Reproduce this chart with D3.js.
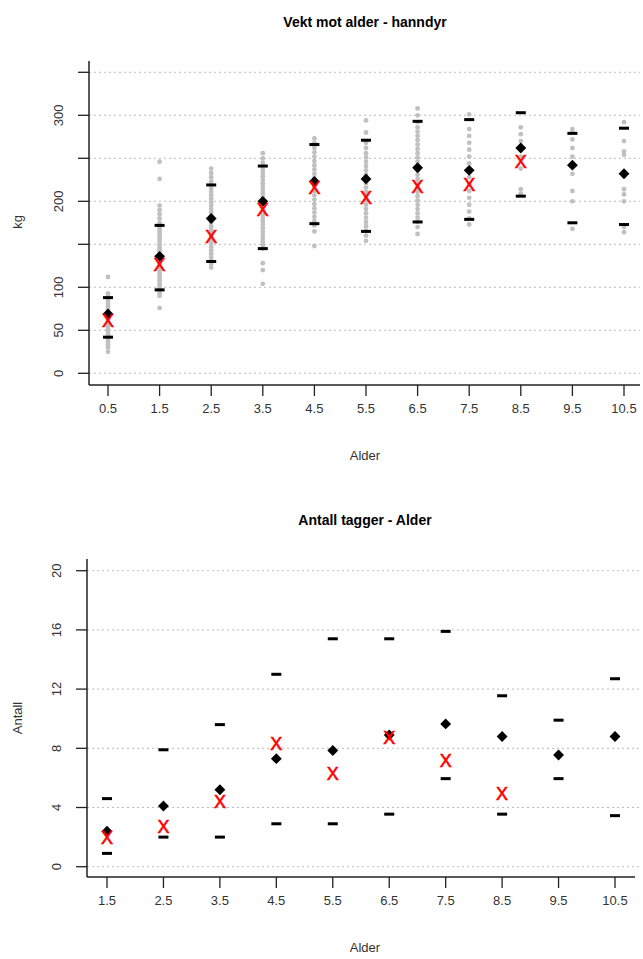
<!DOCTYPE html>
<html><head><meta charset="utf-8">
<script src="https://cdnjs.cloudflare.com/ajax/libs/d3/7.8.5/d3.min.js"></script>
<style>body{margin:0;background:#fff;font-family:"Liberation Sans",Arial,sans-serif}</style>
</head><body><svg id="c" width="643" height="959"></svg>
<script>
// top chart: weight vs age (males)
var ages1 = [0.5,1.5,2.5,3.5,4.5,5.5,6.5,7.5,8.5,9.5,10.5];
var mean1 = [69,136,180,200,223,226,239,236,262,242,232];
var median1 = [61,126,159,190,216,205,217,220,246,null,null];
var upper1 = [88,172,219,241,266,271,293,295,303,279,285];
var lower1 = [42,97,130,145,174,165,176,179,206,175,173];
var dots1 = [
  [25,30,33,36,39,42,45,48,51,54,57,60,63,66,69,72,75,78,81,84,87,90,93,112],
  [76,90,93,96,99,102,105,108,111,114,117,120,123,126,129,132,135,138,141,144,147,150,153,156,159,162,165,168,171,175,180,185,190,195,226,246],
  [123,127,131,135,139,143,147,151,155,159,163,167,171,175,179,183,187,191,195,199,203,207,211,215,219,223,228,233,238],
  [104,120,128,145,149,153,157,161,165,169,173,177,181,185,189,193,197,201,205,209,213,217,221,225,229,233,237,241,245,250,256],
  [148,165,172,177,182,187,192,197,202,207,212,217,222,227,232,237,242,247,252,257,262,268,273],
  [154,160,166,171,176,181,186,191,196,201,206,211,216,221,226,231,236,241,246,251,256,262,268,280,294],
  [162,170,176,181,186,191,196,201,206,211,216,221,226,231,236,241,246,251,256,261,266,271,276,281,286,292,300,308],
  [173,180,188,196,204,212,220,228,236,244,252,260,268,276,284,301],
  [209,214,238,252,262,270,278,286],
  [168,200,212,232,244,252,262,272,280,284],
  [164,170,200,208,214,232,254,258,270,292]
];
var yTicks1 = [0,50,100,150,200,250,300,350];
var yLabels1 = [0,50,100,200,300];

// bottom chart: number of antler tines vs age
var ages2 = [1.5,2.5,3.5,4.5,5.5,6.5,7.5,8.5,9.5,10.5];
var mean2 = [2.4,4.1,5.2,7.3,7.85,8.9,9.65,8.8,7.55,8.8];
var median2 = [2.0,2.7,4.4,8.35,6.3,8.75,7.2,4.95,null,null];
var upper2 = [4.6,7.9,9.6,13.0,15.4,15.4,15.9,11.55,9.9,12.7];
var lower2 = [0.9,2.0,2.0,2.9,2.9,3.55,5.95,3.55,5.95,3.45];
var yTicks2 = [0,4,8,12,16,20];

var svg = d3.select("#c");
var FONT = "13px 'Liberation Sans', Arial, sans-serif";

function panel(o) {
  var g = svg.append("g");
  var x = d3.scaleLinear().domain(o.xd).range(o.xr);
  var y = d3.scaleLinear().domain(o.yd).range(o.yr);
  // grid
  g.selectAll("line.grid").data(o.yTicks).enter().append("line")
    .attr("x1", o.left).attr("x2", 640).attr("y1", y).attr("y2", y)
    .attr("stroke", "#bbb").attr("stroke-dasharray", "2,3");
  // axes
  g.append("line").attr("x1", o.left).attr("x2", o.left).attr("y1", o.axTop).attr("y2", o.axBottom).attr("stroke", "#222").attr("stroke-width", 1.5);
  g.append("line").attr("x1", o.left).attr("x2", o.axRight).attr("y1", o.axBottom).attr("y2", o.axBottom).attr("stroke", "#222").attr("stroke-width", 1.5);
  g.selectAll("line.yt").data(o.yTicks).enter().append("line")
    .attr("x1", o.left - 11).attr("x2", o.left).attr("y1", y).attr("y2", y).attr("stroke", "#222").attr("stroke-width", 1.3);
  g.selectAll("text.yl").data(o.yLabels).enter().append("text")
    .attr("transform", function(d){ return "translate(" + (o.left - 26) + "," + y(d) + ") rotate(-90)"; })
    .attr("text-anchor", "middle").style("font", FONT).attr("fill", "#333").text(function(d){ return d; });
  g.selectAll("line.xt").data(o.ages).enter().append("line")
    .attr("x1", x).attr("x2", x).attr("y1", o.axBottom).attr("y2", o.axBottom + 11).attr("stroke", "#222").attr("stroke-width", 1.3);
  g.selectAll("text.xl").data(o.ages).enter().append("text")
    .attr("x", x).attr("y", o.axBottom + 28).attr("text-anchor", "middle").style("font", FONT).attr("fill", "#333")
    .text(function(d){ return d; });
  // titles
  g.append("text").attr("x", 365).attr("y", o.titleY).attr("text-anchor", "middle")
    .style("font", "bold 14px 'Liberation Sans', Arial, sans-serif").text(o.title);
  g.append("text").attr("x", 365).attr("y", o.axBottom + 75).attr("text-anchor", "middle").style("font", FONT).attr("fill", "#333").text("Alder");
  g.append("text").attr("transform", "translate(22," + o.ylabY + ") rotate(-90)").attr("text-anchor", "middle")
    .style("font", FONT).attr("fill", "#333").text(o.ylab);

  // grey dots
  if (o.dots) {
    o.dots.forEach(function(arr, i) {
      g.selectAll(null).data(arr).enter().append("circle")
        .attr("cx", x(o.ages[i])).attr("cy", y).attr("r", 2.4).attr("fill", "#c0c0c0");
    });
  }
  // range bars
  [o.upper, o.lower].forEach(function(arr) {
    g.selectAll(null).data(arr).enter().append("rect")
      .attr("x", function(d, i){ return x(o.ages[i]) - 5; }).attr("y", function(d){ return y(d) - 1.5; })
      .attr("width", 10).attr("height", 3).attr("fill", "#000");
  });
  // means
  g.selectAll(null).data(o.mean).enter().append("path")
    .attr("d", d3.symbol(d3.symbolDiamond2, 75))
    .attr("transform", function(d, i){ return "translate(" + x(o.ages[i]) + "," + y(d) + ")"; })
    .attr("fill", "#000");
  // medians
  g.selectAll(null).data(o.median.filter(function(d){ return d !== null; })).enter().append("text")
    .attr("x", function(d, i){ return x(o.ages[i]); }).attr("y", function(d){ return y(d) + 6.5; })
    .attr("text-anchor", "middle").style("font", "18px 'Liberation Sans', Arial, sans-serif")
    .attr("fill", "#f00").attr("stroke", "#f00").attr("stroke-width", 0.6).text("X");
}

panel({xd:[0.5,10.5], xr:[108,624], yd:[0,350], yr:[373.3,72.3], left:89, axTop:61, axBottom:385, axRight:640,
  ages:ages1, mean:mean1, median:median1, upper:upper1, lower:lower1, dots:dots1,
  yTicks:yTicks1, yLabels:yLabels1, title:"Vekt mot alder - hanndyr", titleY:27, ylab:"kg", ylabY:222});
panel({xd:[1.5,10.5], xr:[107,615], yd:[0,20], yr:[866.7,570.7], left:87, axTop:559, axBottom:877, axRight:635,
  ages:ages2, mean:mean2, median:median2, upper:upper2, lower:lower2, dots:null,
  yTicks:yTicks2, yLabels:yTicks2, title:"Antall tagger - Alder", titleY:525, ylab:"Antall", ylabY:718});
</script></body></html>
